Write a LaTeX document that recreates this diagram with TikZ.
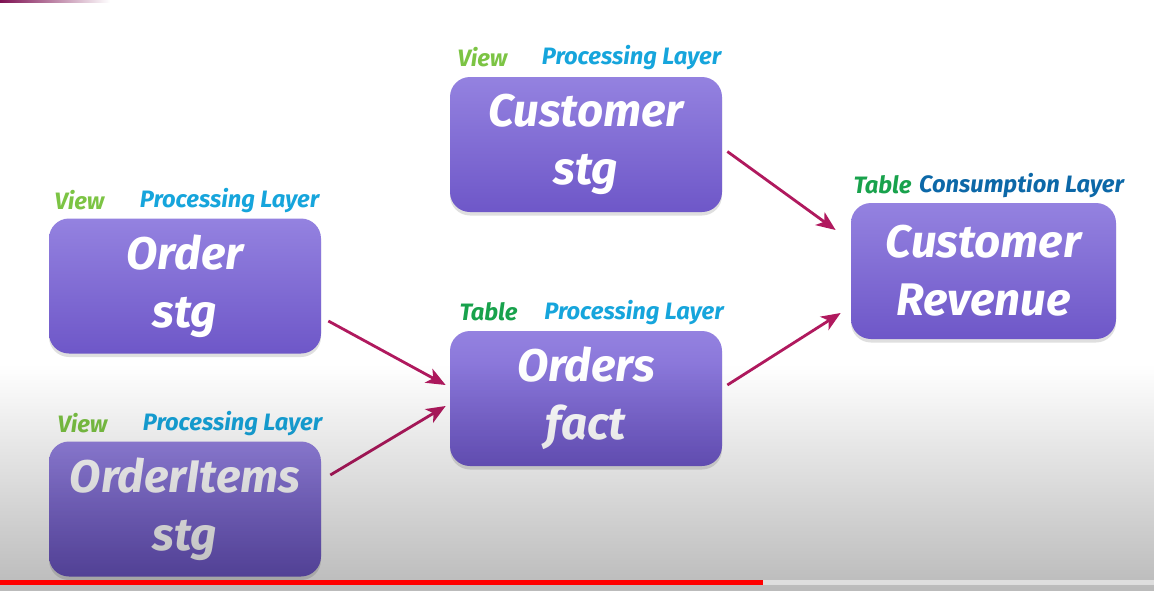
\documentclass[tikz,border=0pt]{standalone}
\usepackage{fontspec}
\setmainfont{Fira Sans}
\usetikzlibrary{arrows.meta,shadows,fadings}

\definecolor{boxtop}{HTML}{9482E0}
\definecolor{boxbot}{HTML}{6E57C8}
\definecolor{flowred}{HTML}{B0195E}
\definecolor{viewgreen}{HTML}{7CC444}
\definecolor{tablegreen}{HTML}{18A24C}
\definecolor{proccyan}{HTML}{16A5DC}
\definecolor{consblue}{HTML}{0C68A8}
\definecolor{stripmag}{HTML}{7E1152}

\tikzfading[name=fadeup, top color=transparent!100, bottom color=transparent!0]

\begin{document}
\begin{tikzpicture}[
    stage/.style={rounded corners=0.4cm, minimum width=5.44cm, minimum height=2.7cm,
      top color=boxtop, bottom color=boxbot, text=white, align=center,
      font=\fontsize{26}{33}\selectfont\bfseries\itshape,
      drop shadow={opacity=0.25, shadow xshift=0cm, shadow yshift=-0.07cm}},
    kind/.style={font=\fontsize{13.5}{15}\selectfont\bfseries\itshape},
    flow/.style={draw=flowred, line width=1.6pt, -{Stealth[length=11pt, width=9pt, inset=3pt]}}
  ]
  \useasboundingbox (0,0) rectangle (23.08,-11.82);
  \fill[white] (0,0) rectangle (23.08,-11.82);
  \shade[left color=stripmag, right color=white] (0,0) rectangle (2.2,-0.05);

  % stages
  \node[stage] (cust) at (11.72,-2.89) {Customer\\stg};
  \node[stage] (order) at (3.70,-5.72) {Order\\stg};
  \node[stage] (items) at (3.70,-10.18) {OrderItems\\stg};
  \node[stage] (fact) at (11.72,-7.97) {Orders\\fact};
  \node[stage, minimum width=5.3cm, minimum height=2.72cm] (rev) at (19.67,-5.42) {Customer\\Revenue};

  % kinds and layers
  \node[kind, text=viewgreen] (custkind) at (9.65,-1.14) {View};
  \node[kind, text=proccyan] (custlayer) at (12.63,-1.16) {Processing Layer};
  \node[kind, text=viewgreen] (orderkind) at (1.59,-4.00) {View};
  \node[kind, text=proccyan] (orderlayer) at (4.59,-4.02) {Processing Layer};
  \node[kind, text=viewgreen] (itemskind) at (1.65,-8.46) {View};
  \node[kind, text=proccyan] (itemslayer) at (4.65,-8.48) {Processing Layer};
  \node[kind, text=tablegreen] (factkind) at (9.77,-6.24) {Table};
  \node[kind, text=proccyan] (factlayer) at (12.68,-6.26) {Processing Layer};
  \node[kind, text=tablegreen] (revkind) at (17.65,-3.70) {Table};
  \node[kind, text=consblue] (revlayer) at (20.43,-3.72) {Consumption Layer};

  % flows
  \draw[flow] ([shift={(0.1,-0.14)}]cust.east) -- ([shift={(-0.3,0.82)}]rev.west);
  \draw[flow] ([shift={(0.14,-0.7)}]order.east) -- ([shift={(-0.08,0.27)}]fact.west);
  \draw[flow] ([shift={(0.18,0.68)}]items.east) -- ([shift={(-0.08,-0.15)}]fact.west);
  \draw[flow] ([shift={(0.1,0.27)}]fact.east) -- ([shift={(-0.2,-0.84)}]rev.west);

  % player overlay
  \fill[black, opacity=0.27, path fading=fadeup] (0,-7.3) rectangle (23.08,-11.82);
  \fill[red] (0,-11.6) rectangle (15.26,-11.7);
  \fill[white, opacity=0.5] (15.26,-11.6) rectangle (23.08,-11.7);
\end{tikzpicture}
\end{document}
